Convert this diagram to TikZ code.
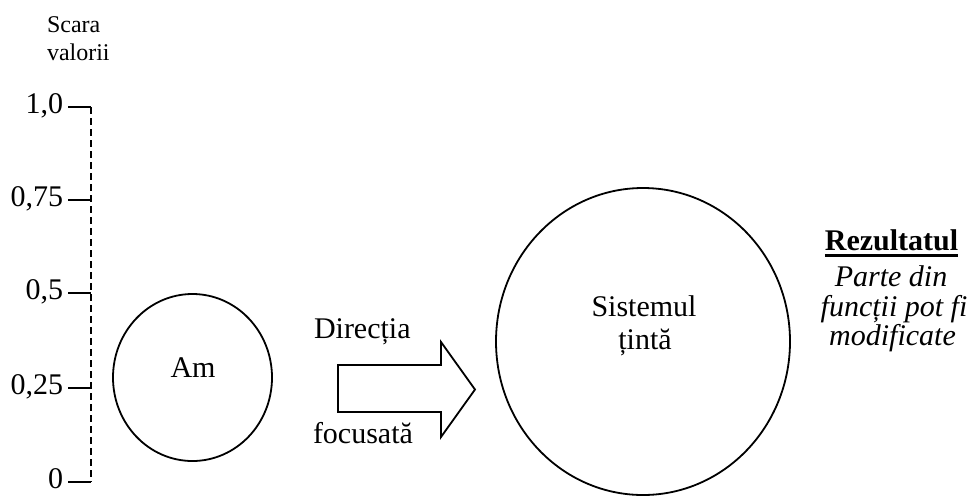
\documentclass[tikz,border=0pt]{standalone}
\usepackage{fontspec}
\setmainfont{Liberation Serif}
\usetikzlibrary{shapes.geometric}
\begin{document}
\begin{tikzpicture}[x=1pt,y=-1pt,
  font=\fontsize{30}{34}\selectfont,
  line width=1.8pt,
  txt/.style={inner sep=0pt, outer sep=0pt},
  tick/.style={line width=1.8pt},
  axisline/.style={line width=1.5pt, dash pattern=on 7pt off 4pt},
  blob/.style={draw, ellipse, inner sep=0pt, line width=1.8pt},
  scale lbl/.style={txt, anchor=base west, font=\fontsize{24}{28}\selectfont},
  note/.style={txt, anchor=base, font=\fontsize{30}{34}\itshape}]
\useasboundingbox (0,0) rectangle (973,496);
% scale title
\node[scale lbl] (t1) at (47,32) {Scara};
\node[scale lbl] (t2) at (47,60) {valorii};
% axis
\coordinate (a1) at (91,107);
\coordinate (a0) at (91,482);
\draw[axisline] (a1) -- (a0);
\foreach \y/\lab/\nm in {107/{1,0}/v100, 200/{0,75}/v075, 293/{0,5}/v050, 388/{0,25}/v025, 482/{0}/v000}{
  \node[txt, anchor=base east] (\nm) at (63,\y+6) {\lab};
  \coordinate (\nm s) at (68,\y);
  \coordinate (\nm e) at (91,\y);
  \draw[tick] (\nm s) -- (\nm e);
}
% small circle
\node[blob, minimum width=159pt, minimum height=167pt] (am) at (192.5,377.5) {};
\node[txt, anchor=base] (amt) at (193,377) {Am};
% arrow
\coordinate (p1) at (338,365);
\coordinate (p2) at (441,365);
\coordinate (p3) at (441,342);
\coordinate (p4) at (475,389.5);
\coordinate (p5) at (441,437);
\coordinate (p6) at (441,412);
\coordinate (p7) at (338,412);
\draw[line join=miter] (p1) -- (p2) -- (p3) -- (p4) -- (p5) -- (p6) -- (p7) -- cycle;
\node[txt, anchor=base west] (dir) at (314,338) {Direcția};
\node[txt, anchor=base west] (foc) at (313,443) {focusată};
% big circle
\node[blob, minimum width=294pt, minimum height=307pt] (st) at (643,341.5) {};
\node[txt, anchor=base] (st1) at (644,316) {Sistemul};
\node[txt, anchor=base] (st2) at (645,349) {țintă};
% result
\node[txt, anchor=base, font=\fontsize{30}{34}\bfseries] (rez) at (891.5,250) {Rezultatul};
\draw[line width=2.4pt] ([yshift=-5.5pt]rez.base west) -- ([yshift=-5.5pt]rez.base east);
\node[note] (r1) at (891,286) {Parte din};
\node[note] (r2) at (894,316) {funcții pot fi};
\node[note] (r3) at (892.5,345) {modificate};
\end{tikzpicture}
\end{document}
